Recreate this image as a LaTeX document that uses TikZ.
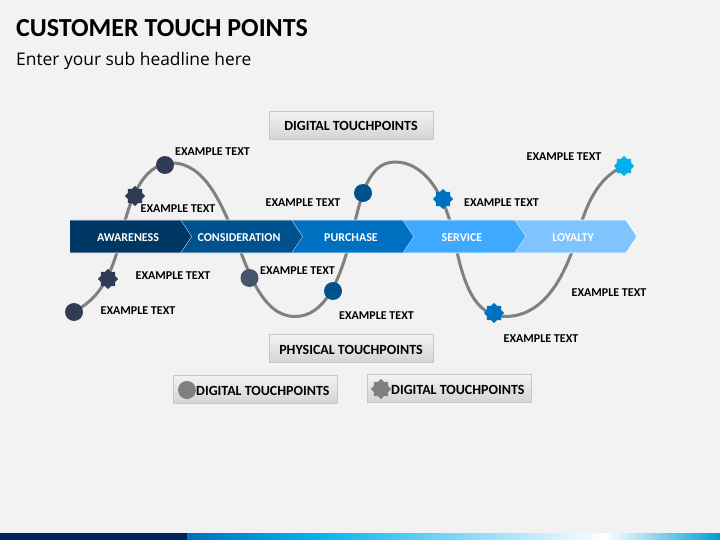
\documentclass[tikz,border=0pt]{standalone}
\usepackage{fontspec}
\setmainfont{Carlito}
\newfontfamily\subfont{Open Sans}
\usetikzlibrary{shapes.geometric, positioning}
\definecolor{color1}{RGB}{242,242,242}
\definecolor{color2}{RGB}{47,60,84}
\definecolor{color3}{RGB}{68,84,106}
\definecolor{color4}{RGB}{0,82,143}
\definecolor{color5}{RGB}{0,112,192}
\definecolor{color6}{RGB}{0,176,240}
\definecolor{color7}{RGB}{0,56,101}
\definecolor{color8}{RGB}{62,169,255}
\definecolor{color9}{RGB}{128,196,255}
\definecolor{color10}{RGB}{0,32,96}
\tikzset{
    exlabel/.style={font=\fontsize{12}{14}\selectfont\bfseries, text=black, inner sep=0pt},
    roundmark/.style={circle, inner sep=0pt, minimum size=18pt},
    starmark/.style={star, star points=8, star point ratio=1.3, inner sep=0pt, minimum size=20pt},
    greybox/.style={draw=black!22, line width=1pt, top color=black!5, bottom color=black!17, minimum width=164pt, minimum height=28pt, inner sep=0pt},
    boxtext/.style={font=\fontsize{14}{16}\selectfont\bfseries, text=black, inner sep=0pt},
    arrowtext/.style={font=\fontsize{12}{14}\selectfont\bfseries, text=white, inner sep=0pt}
}

\begin{document}
\begin{tikzpicture}[x=1pt, y=-1pt]
    \useasboundingbox (0,0) rectangle (720,540);
    \fill [color1] (0,0) rectangle (720,540);

    \node [anchor=west, inner sep=0pt, font=\fontsize{26}{30}\selectfont\bfseries] (title) at (16,28) {CUSTOMER TOUCH POINTS};
    \node [anchor=west, inner sep=0pt, font=\subfont\fontsize{17.4}{20}\selectfont] (subtitle) at (16,61) {Enter your sub headline here};

    % markers first, the curve uses their names
    \coordinate (m1) at (74,312);
    \coordinate (m2) at (108,279);
    \coordinate (m3) at (135,196);
    \coordinate (m4) at (165,165);
    \coordinate (m5) at (249.5,278);
    \coordinate (m6) at (333,291);
    \coordinate (m7) at (363,193);
    \coordinate (m8) at (443,199);
    \coordinate (m9) at (494,313);
    \coordinate (m10) at (624,166);

    \draw [line width=3pt, color=black!50, line cap=round] (m1)
        .. controls (90,302) and (108,292) .. (121,237)
        .. controls (128,207) and (140,163) .. (172,163)
        .. controls (205,163) and (222,205) .. (235,237)
        .. controls (248,270) and (262,316.5) .. (295,316.5)
        .. controls (325,316.5) and (340,280) .. (351,237)
        .. controls (360,205) and (365,162) .. (395,162)
        .. controls (425,162) and (445,195) .. (454,237)
        .. controls (463,285) and (475,316.5) .. (505,316.5)
        .. controls (540,316.5) and (562,285) .. (577,237)
        .. controls (586,205) and (597,178) .. (m10);

    \foreach \xa/\xb/\notch/\boxcol/\boxname/\boxlabel/\xc in {
        70/181/0/color7/awareness/AWARENESS/128,
        181/292/11/color4/consideration/CONSIDERATION/239,
        292/403/11/color5/purchase/PURCHASE/351,
        403/515/11/color8/service/SERVICE/462,
        515/626/11/color9/loyalty/LOYALTY/573}{
        \fill [\boxcol] (\xa,220) -- (\xb,220) -- (\xb+11,236.5) -- (\xb,253) -- (\xa,253) -- (\xa+\notch,236.5) -- cycle;
        \draw [white, line width=0.7pt] (\xa,220) -- (\xb,220) -- (\xb+11,236.5) -- (\xb,253) -- (\xa,253);
        \node [arrowtext] (\boxname) at (\xc,237.5) {\boxlabel};
    }

    \node [roundmark, fill=color2] (mark1) at (m1) {};
    \node [starmark, fill=color2] (mark2) at (m2) {};
    \node [starmark, fill=color2] (mark3) at (m3) {};
    \node [roundmark, fill=color2] (mark4) at (m4) {};
    \node [roundmark, fill=color3] (mark5) at (m5) {};
    \node [roundmark, fill=color4] (mark6) at (m6) {};
    \node [roundmark, fill=color4] (mark7) at (m7) {};
    \node [starmark, fill=color5] (mark8) at (m8) {};
    \node [starmark, fill=color5] (mark9) at (m9) {};
    \node [starmark, fill=color6] (mark10) at (m10) {};

    \node [exlabel] (text1) at (138,310.5) {EXAMPLE TEXT};
    \node [exlabel] (text2) at (173,276) {EXAMPLE TEXT};
    \node [exlabel] (text3) at (178,208.5) {EXAMPLE TEXT};
    \node [exlabel] (text4) at (212.5,151.5) {EXAMPLE TEXT};
    \node [exlabel] (text5) at (297.5,270.5) {EXAMPLE TEXT};
    \node [exlabel] (text6) at (303,202.5) {EXAMPLE TEXT};
    \node [exlabel] (text7) at (376.5,315.5) {EXAMPLE TEXT};
    \node [exlabel] (text8) at (501.5,202.5) {EXAMPLE TEXT};
    \node [exlabel] (text9) at (541,338.5) {EXAMPLE TEXT};
    \node [exlabel] (text10) at (564,157) {EXAMPLE TEXT};
    \node [exlabel] (text11) at (609,293) {EXAMPLE TEXT};

    \node [greybox] (digital) at (351,125.5) {};
    \node [boxtext] at (digital) {DIGITAL TOUCHPOINTS};
    \node [greybox] (physical) at (351,348.5) {};
    \node [boxtext] at ([yshift=-1pt]physical) {PHYSICAL TOUCHPOINTS};
    \node [greybox] (legend1) at (255,389.5) {};
    \node [roundmark, fill=black!50] (legendmark1) at (187,390) {};
    \node [boxtext, anchor=west] (legendtext1) at (196,390.5) {DIGITAL TOUCHPOINTS};
    \node [greybox] (legend2) at (449.5,388.5) {};
    \node [starmark, fill=black!50] (legendmark2) at (381,389) {};
    \node [boxtext, anchor=west] (legendtext2) at (391,389.5) {DIGITAL TOUCHPOINTS};

    \fill [color10] (0,533) rectangle (187,540);
    \shade [left color=color5, right color=color6] (187,533) rectangle (310,540);
    \shade [left color=color6, right color=white] (310,533) rectangle (605,540);
    \shade [left color=white, right color=color6!90!black] (605,533) rectangle (720,540);
\end{tikzpicture}
\end{document}
